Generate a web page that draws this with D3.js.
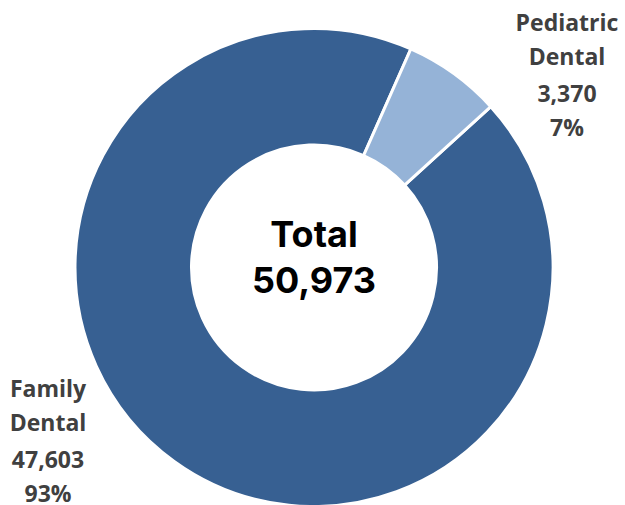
<!DOCTYPE html>
<html>
<head>
<meta charset="utf-8">
<script src="https://cdn.jsdelivr.net/npm/d3@7"></script>
<style>
  html, body { margin: 0; padding: 0; background: #ffffff; }
  svg { display: block; }
</style>
</head>
<body>
<svg id="chart" width="625" height="505"></svg>
<script>
// ---- Data ----
const categories = ["Family Dental", "Pediatric Dental"];
const labelLines = [["Family", "Dental"], ["Pediatric", "Dental"]];
const values = [47603, 3370];
const percents = ["93%", "7%"];
const totalLabel = "Total";

// ---- Layout ----
const width = 625, height = 505;
const cx = 314, cy = 267.5;
const outerR = 239, innerR = 122.5;
const colors = ["#376092", "#95B3D7"];
const startDeg = 47.7;

const svg = d3.select("#chart");
const g = svg.append("g").attr("transform", `translate(${cx},${cy})`);

const pie = d3.pie()
  .sort(null)
  .value(d => d)
  .startAngle(startDeg * Math.PI / 180)
  .endAngle(startDeg * Math.PI / 180 + 2 * Math.PI);

const arc = d3.arc().innerRadius(innerR).outerRadius(outerR);
const arcs = pie(values);

g.selectAll("path.slice")
  .data(arcs)
  .join("path")
  .attr("class", "slice")
  .attr("d", arc)
  .attr("fill", (d, i) => colors[i])
  .attr("stroke", "#ffffff")
  .attr("stroke-width", 3)
  .attr("stroke-linejoin", "miter");

// ---- Center label ----
const fmt = d3.format(",");
g.append("text")
  .attr("x", 0).attr("y", 246.7 - cy)
  .attr("text-anchor", "middle")
  .attr("font-family", "Inter, Lato, sans-serif")
  .attr("font-weight", 700)
  .attr("font-size", 36)
  .attr("fill", "#000000")
  .text(totalLabel);
g.append("text")
  .attr("x", 0).attr("y", 293.3 - cy)
  .attr("text-anchor", "middle")
  .attr("font-family", "Inter, Lato, sans-serif")
  .attr("font-weight", 700)
  .attr("font-size", 36)
  .attr("fill", "#000000")
  .text(fmt(d3.sum(values)));

// ---- Outside data labels ----
const labelPos = [{x: 48, y: 396.7}, {x: 567, y: 30.7}];
const lineOffsets = [0, 34.3, 71.6, 105.3];

categories.forEach((c, i) => {
  const lines = [...labelLines[i], fmt(values[i]), percents[i]];
  const t = svg.append("text")
    .attr("text-anchor", "middle")
    .attr("font-family", "'Open Sans', Lato, sans-serif")
    .attr("font-weight", 700)
    .attr("font-size", 23)
    .attr("fill", "#404040");
  lines.forEach((ln, k) => {
    t.append("tspan")
      .attr("x", labelPos[i].x)
      .attr("y", labelPos[i].y + lineOffsets[k])
      .text(ln);
  });
});
</script>
</body>
</html>
